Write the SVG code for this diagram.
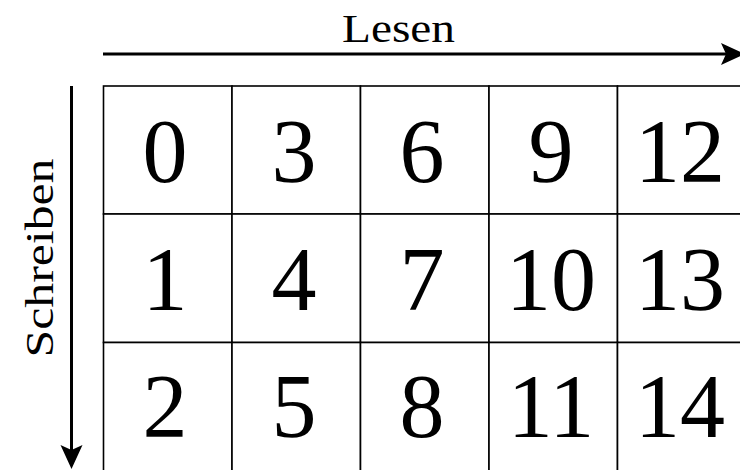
<svg xmlns="http://www.w3.org/2000/svg" width="740" height="470" viewBox="0 0 740 470">
<style>
.cell{fill:#fff;stroke:#000;stroke-width:1.6}
.num{font-family:"Liberation Serif","Times New Roman",serif;font-size:90px;text-anchor:middle;fill:#000}
.lbl{font-family:"Liberation Serif","Times New Roman",serif;font-size:41px;text-anchor:middle;fill:#000}
.ax{stroke:#000;stroke-width:3;fill:none}
.head{fill:#000;stroke:none}
</style>
<rect width="740" height="470" fill="#fff"/>
<g id="cells">
<g id="c0"><rect class="cell" x="103.5" y="86" width="128.5" height="128"/><text class="num" x="165" y="182">0</text></g>
<g id="c3"><rect class="cell" x="232" y="86" width="128.5" height="128"/><text class="num" x="294" y="182">3</text></g>
<g id="c6"><rect class="cell" x="360.5" y="86" width="128.5" height="128"/><text class="num" x="422" y="182">6</text></g>
<g id="c9"><rect class="cell" x="489" y="86" width="128.5" height="128"/><text class="num" x="551" y="182">9</text></g>
<g id="c12"><rect class="cell" x="617.5" y="86" width="128.5" height="128"/><text class="num" x="680" y="182">12</text></g>
<g id="c1"><rect class="cell" x="103.5" y="214" width="128.5" height="128.5"/><text class="num" x="165" y="310">1</text></g>
<g id="c4"><rect class="cell" x="232" y="214" width="128.5" height="128.5"/><text class="num" x="294" y="310">4</text></g>
<g id="c7"><rect class="cell" x="360.5" y="214" width="128.5" height="128.5"/><text class="num" x="422" y="310">7</text></g>
<g id="c10"><rect class="cell" x="489" y="214" width="128.5" height="128.5"/><text class="num" x="551" y="310">10</text></g>
<g id="c13"><rect class="cell" x="617.5" y="214" width="128.5" height="128.5"/><text class="num" x="680" y="310">13</text></g>
<g id="c2"><rect class="cell" x="103.5" y="342.5" width="128.5" height="128.5"/><text class="num" x="165" y="437">2</text></g>
<g id="c5"><rect class="cell" x="232" y="342.5" width="128.5" height="128.5"/><text class="num" x="294" y="437">5</text></g>
<g id="c8"><rect class="cell" x="360.5" y="342.5" width="128.5" height="128.5"/><text class="num" x="422" y="437">8</text></g>
<g id="c11"><rect class="cell" x="489" y="342.5" width="128.5" height="128.5"/><text class="num" x="551" y="437">11</text></g>
<g id="c14"><rect class="cell" x="617.5" y="342.5" width="128.5" height="128.5"/><text class="num" x="680" y="437">14</text></g>
</g>
<g id="connectors">
<g id="read-arrow">
<line class="ax" x1="103" y1="54" x2="726" y2="54"/>
<path class="head" d="M721,43 L745,54 L721,65 L726,54 Z"/>
</g>
<g id="write-arrow">
<line class="ax" x1="71.5" y1="86" x2="71.5" y2="450"/>
<path class="head" d="M60.5,445 L71.5,469 L82.5,445 L71.5,450 Z"/>
</g>
</g>
<g id="labels">
<text class="lbl" x="398.5" y="42" textLength="113" lengthAdjust="spacingAndGlyphs">Lesen</text>
<text class="lbl" transform="translate(53,258) rotate(-90)" x="0" y="0" textLength="199" lengthAdjust="spacingAndGlyphs">Schreiben</text>
</g>
</svg>
